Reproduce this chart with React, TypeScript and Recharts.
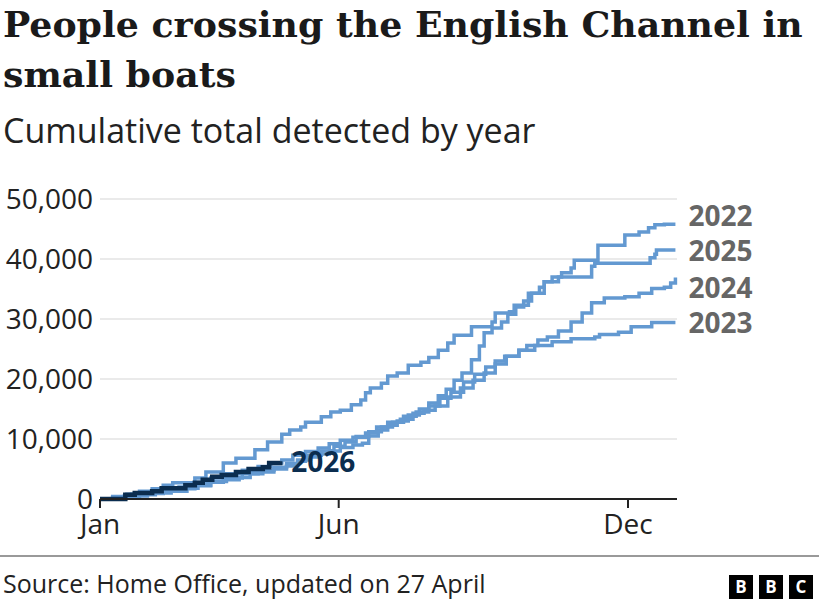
import { LineChart, Line, XAxis, YAxis, CartesianGrid } from 'recharts'

// Cumulative small-boat crossings (day of year -> total)
const days2022 = [0, 8, 15, 25, 35, 45, 55, 62, 70, 78, 88, 95, 103, 110, 118, 125, 130, 138, 145, 152, 160, 166, 170, 176, 182, 188, 195, 202, 208, 214, 219, 224, 229, 235, 240, 243, 248, 254, 258, 263, 268, 273, 278, 281, 286, 292, 298, 300, 313, 315, 330, 332, 341, 347, 351, 357, 364]
const totals2022 = [0, 150, 400, 700, 1000, 1300, 1800, 2200, 2800, 3200, 3600, 4200, 4500, 5000, 5500, 6300, 7000, 7500, 8000, 8600, 9000, 9300, 10500, 11500, 12300, 13000, 14000, 15000, 16000, 17200, 18300, 19800, 21000, 23200, 25500, 27700, 28500, 29500, 30800, 32000, 33000, 34300, 35300, 36200, 37000, 37700, 38500, 39800, 39800, 42300, 42300, 44000, 44500, 45200, 45700, 45800, 45800]

const days2023 = [0, 10, 20, 30, 40, 50, 60, 70, 80, 90, 100, 110, 118, 125, 132, 140, 148, 155, 162, 170, 178, 185, 192, 200, 208, 215, 222, 230, 237, 244, 250, 256, 265, 275, 286, 298, 313, 316, 328, 336, 349, 364]
const totals2023 = [0, 200, 500, 900, 1300, 1700, 2300, 2900, 3500, 4200, 4800, 5300, 5900, 6500, 7300, 8000, 8800, 9500, 10400, 11200, 12000, 12800, 13800, 14500, 15500, 16800, 17800, 19500, 20800, 22000, 23000, 23800, 24800, 25600, 26200, 26700, 27000, 27400, 27800, 28700, 29400, 29400]

const days2024 = [0, 10, 20, 30, 40, 50, 60, 70, 80, 90, 100, 108, 115, 122, 130, 138, 145, 152, 160, 168, 175, 182, 190, 198, 205, 212, 220, 228, 236, 243, 250, 257, 265, 270, 277, 283, 290, 298, 305, 311, 319, 332, 341, 349, 357, 361, 364]
const totals2024 = [0, 300, 800, 1200, 1600, 2000, 2800, 3500, 4200, 4800, 5400, 6000, 6500, 7300, 7900, 8500, 9200, 9800, 10300, 11000, 12000, 12800, 13300, 14300, 14800, 15500, 17000, 18500, 19800, 21000, 22500, 23800, 24800, 25600, 26500, 27000, 28000, 29500, 31000, 32700, 33500, 33700, 34300, 35100, 35300, 36000, 36900]

const days2025 = [0, 8, 17, 25, 33, 40, 46, 60, 67, 78, 86, 98, 106, 115, 120, 127, 130, 140, 146, 152, 159, 165, 168, 171, 178, 182, 188, 195, 203, 208, 214, 220, 224, 235, 248, 250, 259, 262, 271, 281, 290, 309, 311, 313, 345, 348, 351, 352, 364]
const totals2025 = [0, 400, 800, 1300, 1700, 2300, 2700, 3500, 4500, 6000, 6800, 8200, 9500, 10800, 11500, 12000, 12800, 13700, 14500, 14800, 15700, 16500, 17700, 18500, 19300, 20500, 21000, 22300, 22800, 23600, 24800, 26000, 27300, 28700, 29500, 31000, 31200, 32300, 34300, 36200, 37000, 37000, 38800, 39300, 39300, 40200, 40800, 41500, 41500]

const days2026 = [0, 9, 16, 22, 33, 39, 52, 54, 60, 65, 71, 77, 86, 94, 103, 107, 114]
const totals2026 = [0, 0, 700, 1000, 1300, 1800, 1800, 2300, 2700, 3200, 3700, 4000, 4500, 5000, 5300, 6000, 6300]

const xTicks = [0, 151, 334]
const xTickLabels = ['Jan', 'Jun', 'Dec']
const yTicks = [0, 10000, 20000, 30000, 40000, 50000]

const LIGHT = '#6399d1'
const DARK = '#0b2d4f'
const SANS = '"Open Sans", sans-serif'

const toPoints = (days: number[], totals: number[]) => days.map((day, i) => ({ day, total: totals[i] }))

// nudge = vertical offset of the end label so they don't collide
const series = [
  { year: '2022', data: toPoints(days2022, totals2022), color: LIGHT, labelColor: '#666', width: 3.5, nudge: -8, dx: 13 },
  { year: '2023', data: toPoints(days2023, totals2023), color: LIGHT, labelColor: '#666', width: 3.5, nudge: 0, dx: 13 },
  { year: '2024', data: toPoints(days2024, totals2024), color: LIGHT, labelColor: '#666', width: 3.5, nudge: 10, dx: 13 },
  { year: '2025', data: toPoints(days2025, totals2025), color: LIGHT, labelColor: '#666', width: 3.5, nudge: 1, dx: 13 },
  { year: '2026', data: toPoints(days2026, totals2026), color: DARK, labelColor: DARK, width: 4.5, nudge: 1, dx: 11 },
]

const endLabel = (s: typeof series[number]) => (props: any) => {
  const { x, y, index } = props
  if (index !== s.data.length - 1) return null
  return (
    <text x={x + s.dx} y={y + s.nudge} dy="0.36em" fill={s.labelColor} fontSize={28} fontWeight={700} fontFamily={SANS}>
      {s.year}
    </text>
  )
}

export default function App() {
  return (
    <div style={{ position: 'absolute', left: 0, top: 0, width: 819, height: 600, background: '#fff', overflow: 'hidden', color: '#222' }}>
      <LineChart width={819} height={560} margin={{ top: 199, right: 142, bottom: 21, left: 0 }} style={{ position: 'absolute', left: 0, top: 0 }}>
        <CartesianGrid vertical={false} stroke="#e3e3e3" strokeWidth={1.5} />
        <XAxis
          dataKey="day"
          type="number"
          domain={[0, 365]}
          ticks={xTicks}
          tickFormatter={(v) => xTickLabels[xTicks.indexOf(v)] ?? ''}
          height={40}
          tickSize={9}
          tickMargin={6}
          axisLine={{ stroke: '#222', strokeWidth: 2 }}
          tickLine={{ stroke: '#222', strokeWidth: 2 }}
          tick={{ fill: '#222', fontSize: 28, fontFamily: SANS }}
          allowDuplicatedCategory={false}
        />
        <YAxis
          type="number"
          domain={[0, 50000]}
          ticks={yTicks}
          tickFormatter={(v) => v.toLocaleString('en-GB')}
          width={100}
          tickSize={0}
          tickMargin={7}
          axisLine={false}
          tickLine={false}
          tick={{ fill: '#222', fontSize: 28, fontFamily: SANS }}
        />
        {series.map(s => (
          <Line
            key={s.year}
            data={s.data}
            dataKey="total"
            type="stepAfter"
            stroke={s.color}
            strokeWidth={s.width}
            dot={false}
            activeDot={false}
            isAnimationActive={false}
            label={endLabel(s)}
          />
        ))}
      </LineChart>

      <div style={{ position: 'absolute', left: 3, top: 0, fontFamily: '"DejaVu Serif", serif', fontWeight: 700, fontSize: 36.3, lineHeight: '50px', color: '#1a1a1a', whiteSpace: 'nowrap' }}>
        People crossing the English Channel in<br />small boats
      </div>
      <div style={{ position: 'absolute', left: 3, top: 107, fontFamily: SANS, fontSize: 34, color: '#222', whiteSpace: 'nowrap' }}>
        Cumulative total detected by year
      </div>

      <div style={{ position: 'absolute', left: 0, top: 555, width: 819, height: 2, background: '#999' }} />
      <div style={{ position: 'absolute', left: 3, top: 566, fontFamily: SANS, fontSize: 25, color: '#222', whiteSpace: 'nowrap' }}>
        Source: Home Office, updated on 27 April
      </div>
      <div style={{ position: 'absolute', left: 729, top: 575, display: 'flex', gap: 6 }}>
        {['B', 'B', 'C'].map((ch, i) => (
          <div key={i} style={{ width: 24, height: 24, background: '#000', color: '#fff', fontFamily: SANS, fontWeight: 700, fontSize: 17, lineHeight: '24px', textAlign: 'center' }}>
            {ch}
          </div>
        ))}
      </div>
    </div>
  )
}
